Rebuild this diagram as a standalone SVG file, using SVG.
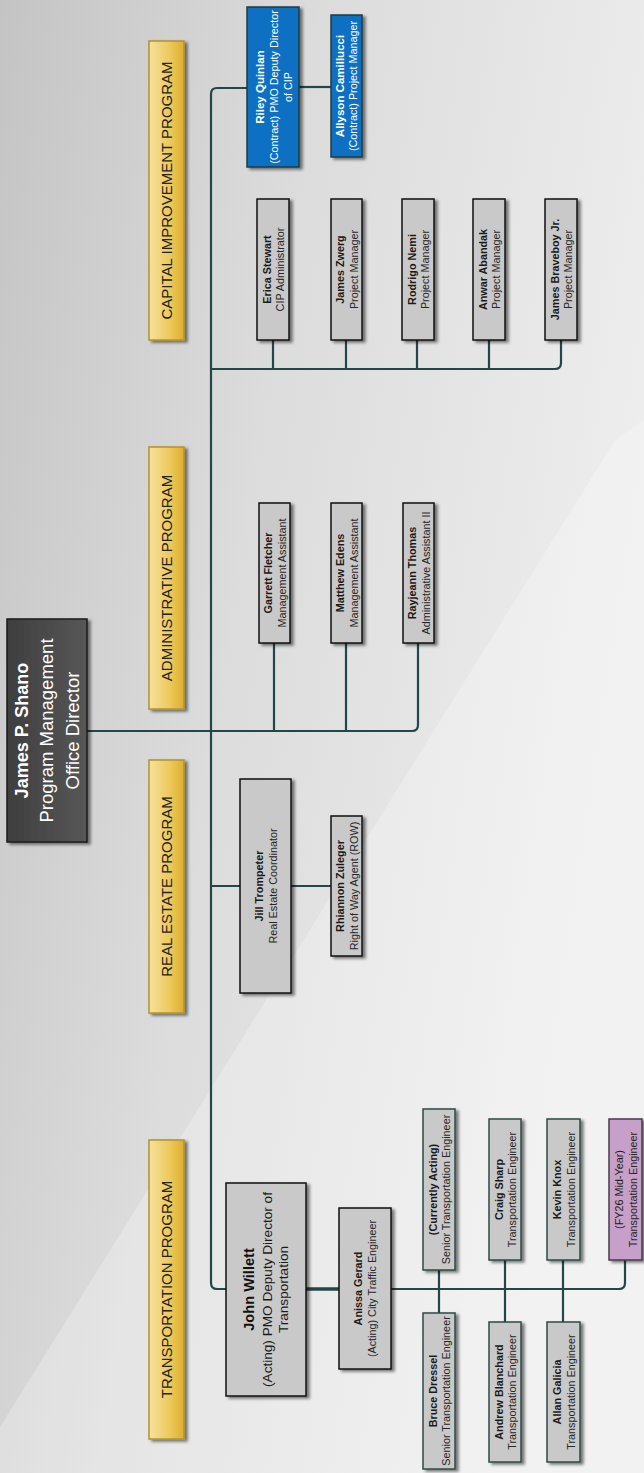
<svg xmlns="http://www.w3.org/2000/svg" width="644" height="1473" viewBox="0 0 644 1473">
<style>
  text { font-family: "Liberation Sans", Arial, sans-serif; text-anchor: middle; }
  .box { fill: #c9c9c9; stroke: #111; stroke-width: 1.5; filter: url(#sh); }
  .tbox { fill: #c9c9c9; stroke: #2e4a44; stroke-width: 1.5; filter: url(#sh); }
  .pbox { fill: #c7a0c9; stroke: #4a3a4c; stroke-width: 1.5; filter: url(#sh); }
  .blue { fill: #0a6fc2; stroke: #1f3c3c; stroke-width: 1.5; filter: url(#sh); }
  .lab { fill: url(#gold); stroke: #b3932c; stroke-width: 1.5; filter: url(#sh); }
  .dir { fill: url(#dark); stroke: #1c1c1c; stroke-width: 1.5; filter: url(#sh); }
  .nm { font-size: 10.8px; font-weight: bold; fill: #1a1a1a; }
  .tt { font-size: 10.8px; fill: #262626; }
  .nmw { font-size: 11.5px; font-weight: bold; fill: #ffffff; }
  .ttw { font-size: 10.8px; fill: #ffffff; }
  .lt { font-size: 15px; fill: #222; }
  .conn path { fill: none; stroke: #234747; stroke-width: 2.2; }
</style>
<defs>
  <linearGradient id="bg" x1="0" y1="0" x2="1" y2="0.35">
    <stop offset="0" stop-color="#c4c4c4"/>
    <stop offset="0.45" stop-color="#dcdcdc"/>
    <stop offset="1" stop-color="#eeeeee"/>
  </linearGradient>
  <linearGradient id="gold" x1="0" y1="0" x2="1" y2="0">
    <stop offset="0" stop-color="#f6e19e"/>
    <stop offset="0.6" stop-color="#ecc95a"/>
    <stop offset="1" stop-color="#deae2c"/>
  </linearGradient>
  <linearGradient id="dark" x1="0" y1="0" x2="1" y2="0">
    <stop offset="0" stop-color="#3e3e3e"/>
    <stop offset="1" stop-color="#575757"/>
  </linearGradient>
  <filter id="sh" x="-20%" y="-10%" width="150%" height="130%">
    <feDropShadow dx="3" dy="2" stdDeviation="1.5" flood-color="#000" flood-opacity="0.5"/>
  </filter>
</defs>

<rect width="644" height="1473" fill="url(#bg)"/>
<polygon points="615,440 644,420 644,1473 0,1473 0,1427" fill="#ffffff" opacity="0.25"/>

<g id="connectors" class="conn">
  <path d="M87,731 H412 Q418,731 418,725 V643"/>
  <path d="M247,88 H217 Q211,88 211,94 V1283 Q211,1289 217,1289 H226"/>
  <path d="M211,369 H555 Q561,369 561,363 V340"/>
  <path d="M273,340 V369 M346,340 V369 M417,340 V369 M489,340 V369"/>
  <path d="M274,643 V731 M346,643 V731"/>
  <path d="M299,87 H331"/>
  <path d="M211,886 H240 M291,886 H331"/>
  <path d="M306,1289 H339" style="stroke-width:3.5"/>
  <path d="M391,1289 H619 Q625,1289 625,1283 V1260"/>
  <path d="M439,1270 V1313 M505,1260 V1322 M563,1260 V1322"/>
</g>

<g id="director">
  <rect class="dir" x="7" y="619" width="80" height="223"/>
  <g transform="translate(47,730.5) rotate(-90)">
    <text y="-19" style="font-size:18px;font-weight:bold;fill:#fff">James P. Shano</text>
    <text y="6" style="font-size:18.5px;fill:#fff">Program Management</text>
    <text y="32" style="font-size:18.5px;fill:#fff">Office Director</text>
  </g>
</g>

<g id="label-cip">
  <rect class="lab" x="149" y="41" width="35" height="299"/>
  <text class="lt" transform="translate(166.5,190.5) rotate(-90)" y="5.5">CAPITAL IMPROVEMENT PROGRAM</text>
</g>
<g id="label-admin">
  <rect class="lab" x="149" y="447" width="35" height="262"/>
  <text class="lt" transform="translate(166.5,578) rotate(-90)" y="5.5">ADMINISTRATIVE PROGRAM</text>
</g>
<g id="label-re">
  <rect class="lab" x="149" y="760" width="35" height="253"/>
  <text class="lt" transform="translate(166.5,886.5) rotate(-90)" y="5.5">REAL ESTATE PROGRAM</text>
</g>
<g id="label-trans">
  <rect class="lab" x="149" y="1140" width="35" height="299"/>
  <text class="lt" transform="translate(166.5,1289.5) rotate(-90)" y="5.5">TRANSPORTATION PROGRAM</text>
</g>

<g id="riley">
  <rect class="blue" x="247" y="7" width="52" height="160"/>
  <g transform="translate(273,87) rotate(-90)">
    <text class="nmw" y="-9">Riley Quinlan</text>
    <text class="ttw" y="4.5">(Contract) PMO Deputy Director</text>
    <text class="ttw" y="19">of CIP</text>
  </g>
</g>
<g id="allyson">
  <rect class="blue" x="331" y="15" width="31" height="142"/>
  <g transform="translate(346.5,86) rotate(-90)">
    <text class="nmw" y="-3">Allyson Camillucci</text>
    <text class="ttw" y="10.5">(Contract) Project Manager</text>
  </g>
</g>

<g id="erica">
  <rect class="box" x="257" y="199" width="32" height="141"/>
  <g transform="translate(273,269.5) rotate(-90)">
    <text class="nm" y="-2.5">Erica Stewart</text>
    <text class="tt" y="11">CIP Administrator</text>
  </g>
</g>
<g id="zwerg">
  <rect class="box" x="331" y="199" width="31" height="141"/>
  <g transform="translate(346.5,269.5) rotate(-90)">
    <text class="nm" y="-2.5">James Zwerg</text>
    <text class="tt" y="11">Project Manager</text>
  </g>
</g>
<g id="nemi">
  <rect class="box" x="402" y="199" width="32" height="141"/>
  <g transform="translate(418,269.5) rotate(-90)">
    <text class="nm" y="-2.5">Rodrigo Nemi</text>
    <text class="tt" y="11">Project Manager</text>
  </g>
</g>
<g id="abandak">
  <rect class="box" x="473" y="199" width="32" height="141"/>
  <g transform="translate(489,269.5) rotate(-90)">
    <text class="nm" y="-2.5">Anwar Abandak</text>
    <text class="tt" y="11">Project Manager</text>
  </g>
</g>
<g id="braveboy">
  <rect class="box" x="545" y="199" width="32" height="141"/>
  <g transform="translate(561,269.5) rotate(-90)">
    <text class="nm" y="-2.5">James Braveboy Jr.</text>
    <text class="tt" y="11">Project Manager</text>
  </g>
</g>

<g id="fletcher">
  <rect class="box" x="259" y="503" width="31" height="140"/>
  <g transform="translate(274.5,573) rotate(-90)">
    <text class="nm" y="-2.5">Garrett Fletcher</text>
    <text class="tt" y="11">Management Assistant</text>
  </g>
</g>
<g id="edens">
  <rect class="box" x="331" y="503" width="31" height="140"/>
  <g transform="translate(346.5,573) rotate(-90)">
    <text class="nm" y="-2.5">Matthew Edens</text>
    <text class="tt" y="11">Management Assistant</text>
  </g>
</g>
<g id="thomas">
  <rect class="box" x="403" y="503" width="31" height="140"/>
  <g transform="translate(418.5,573) rotate(-90)">
    <text class="nm" y="-2.5">Rayjeann Thomas</text>
    <text class="tt" y="11">Administrative Assistant II</text>
  </g>
</g>

<g id="trompeter">
  <rect class="box" x="240" y="779" width="51" height="214"/>
  <g transform="translate(265.5,886) rotate(-90)">
    <text class="nm" y="-3">Jill Trompeter</text>
    <text class="tt" y="11.5">Real Estate Coordinator</text>
  </g>
</g>
<g id="zuleger">
  <rect class="box" x="331" y="816" width="31" height="140"/>
  <g transform="translate(346.5,886) rotate(-90)">
    <text class="nm" y="-2.5">Rhiannon Zuleger</text>
    <text class="tt" y="11">Right of Way Agent (ROW)</text>
  </g>
</g>

<g id="willett">
  <rect class="box" x="226" y="1183" width="80" height="213"/>
  <g transform="translate(266,1289.5) rotate(-90)">
    <text y="-12.5" style="font-size:14.6px;font-weight:bold;fill:#111">John Willett</text>
    <text y="6" style="font-size:13.6px;fill:#1a1a1a">(Acting) PMO Deputy Director of</text>
    <text y="21.5" style="font-size:13.6px;fill:#1a1a1a">Transportation</text>
  </g>
</g>
<g id="gerard">
  <rect class="box" x="339" y="1208" width="52" height="161"/>
  <g transform="translate(365,1288.5) rotate(-90)">
    <text class="nm" y="-3">Anissa Gerard</text>
    <text class="tt" y="11">(Acting) City Traffic Engineer</text>
  </g>
</g>

<g id="acting">
  <rect class="tbox" x="423" y="1109" width="32" height="161"/>
  <g transform="translate(439,1189.5) rotate(-90)">
    <text class="nm" y="-2.5">(Currently Acting)</text>
    <text class="tt" y="11">Senior Transportation Engineer</text>
  </g>
</g>
<g id="dressel">
  <rect class="tbox" x="423" y="1313" width="32" height="156"/>
  <g transform="translate(439,1391) rotate(-90)">
    <text class="nm" y="-2.5">Bruce Dressel</text>
    <text class="tt" y="11">Senior Transportation Engineer</text>
  </g>
</g>
<g id="sharp">
  <rect class="tbox" x="489" y="1119" width="32" height="141"/>
  <g transform="translate(505,1189.5) rotate(-90)">
    <text class="nm" y="-2.5">Craig Sharp</text>
    <text class="tt" y="11">Transportation Engineer</text>
  </g>
</g>
<g id="blanchard">
  <rect class="tbox" x="489" y="1322" width="32" height="140"/>
  <g transform="translate(505,1392) rotate(-90)">
    <text class="nm" y="-2.5">Andrew Blanchard</text>
    <text class="tt" y="11">Transportation Engineer</text>
  </g>
</g>
<g id="knox">
  <rect class="tbox" x="547" y="1119" width="33" height="141"/>
  <g transform="translate(563.5,1189.5) rotate(-90)">
    <text class="nm" y="-2.5">Kevin Knox</text>
    <text class="tt" y="11">Transportation Engineer</text>
  </g>
</g>
<g id="galicia">
  <rect class="tbox" x="547" y="1322" width="33" height="140"/>
  <g transform="translate(563.5,1392) rotate(-90)">
    <text class="nm" y="-2.5">Allan Galicia</text>
    <text class="tt" y="11">Transportation Engineer</text>
  </g>
</g>
<g id="fy26">
  <rect class="pbox" x="609" y="1119" width="33" height="141"/>
  <g transform="translate(625.5,1189.5) rotate(-90)">
    <text class="tt" y="-2.5" style="fill:#1a1a1a">(FY26 Mid-Year)</text>
    <text class="tt" y="11">Transportation Engineer</text>
  </g>
</g>
</svg>
